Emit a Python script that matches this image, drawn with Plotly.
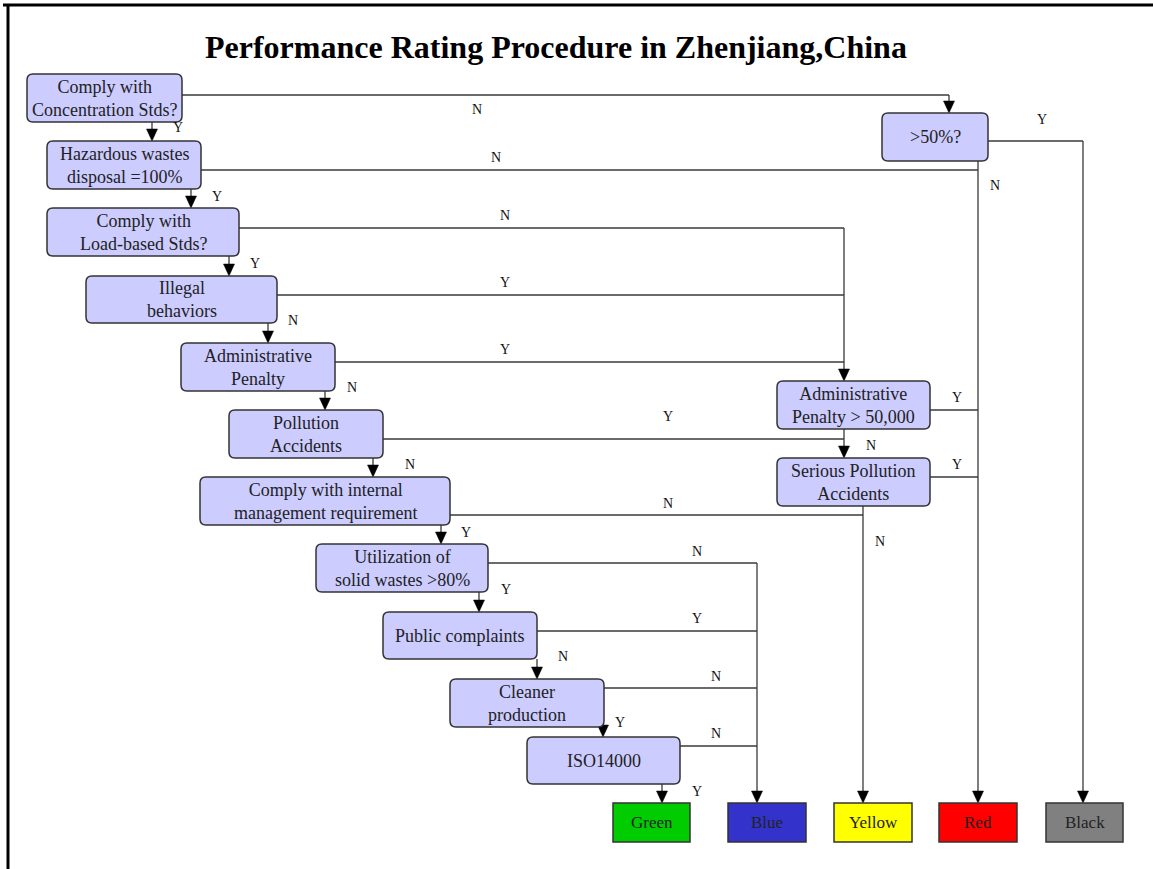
import plotly.graph_objects as go

# ---------------- content ----------------
TITLE = "Performance Rating Procedure in Zhenjiang,China"

STEP_LABELS = [
    "Comply with<br>Concentration Stds?",
    "Hazardous wastes<br>disposal =100%",
    "Comply with<br>Load-based Stds?",
    "Illegal<br>behaviors",
    "Administrative<br>Penalty",
    "Pollution<br>Accidents",
    "Comply with internal<br>management requirement",
    "Utilization of<br>solid wastes >80%",
    "Public complaints",
    "Cleaner<br>production",
    "ISO14000",
]
CHECK_LABELS = [">50%?", "Administrative<br>Penalty > 50,000", "Serious Pollution<br>Accidents"]
GRADES = ["Green", "Blue", "Yellow", "Red", "Black"]
# answers written next to the down arrows of the left chain (step i -> i+1)
DOWN_ANSWERS = ["Y", "Y", "Y", "N", "N", "N", "Y", "Y", "N", "Y", "Y"]
# answers written on the branches going right from each step
SIDE_ANSWERS = ["N", "N", "N", "Y", "Y", "Y", "N", "N", "Y", "N", "N"]
CHECK_ANSWERS = ["Y", "N", "Y", "N", "Y", "N"]  # >50% Y/N, Pen Y/N, Serious Y/N

# ---------------- layout geometry (pixels) ----------------
W, H = 1153, 869
STEP_BOX = [(27, 74, 182, 122), (47, 141, 201, 189), (47, 208, 239, 256), (86, 276, 277, 323),
            (181, 343, 335, 391), (229, 410, 383, 458), (200, 477, 450, 525), (316, 544, 488, 592),
            (383, 612, 537, 659), (450, 679, 604, 727), (527, 737, 680, 784)]
DOWN_X = [152, 191, 229, 268, 325, 373, 441, 479, 537, 603, 662]
SIDE_Y = [95, 170, 228, 295, 362, 439, 515, 563, 631, 688, 746]
CHECK_BOX = [(882, 113, 988, 161), (777, 381, 930, 429), (777, 458, 930, 506)]
GRADE_BOX = [(613, 803, 690, 842), (728, 803, 806, 842), (834, 803, 912, 842),
             (939, 803, 1017, 842), (1046, 803, 1123, 842)]
GRADE_COLORS = ["#00CC00", "#3333CC", "#FFFF00", "#FF0000", "#808080"]
BUS_X = {"r1": 949, "red": 978, "pen": 844, "yellow": 863, "blue": 757, "black": 1083}
SIDE_TARGET = ["r1", "red", "pen", "pen", "pen", "pen", "yellow", "blue", "blue", "blue", "blue"]
SIDE_LABEL_POS = [(477, 109), (496, 157), (505, 215), (505, 282), (505, 349), (668, 416),
                  (668, 503), (697, 551), (697, 618), (716, 676), (716, 733)]
DOWN_LABEL_POS = [(178, 127), (217, 196), (255, 263), (293, 320), (352, 387), (410, 464),
                  (466, 532), (506, 589), (563, 656), (620, 722), (697, 791)]
CHECK_LABEL_POS = [(1042, 119), (995, 185), (957, 397), (871, 445), (957, 464), (880, 541)]
CHECK_SIDE_Y = [141, 410, 477]

LINE = dict(color="#3a3a3a", width=1.3)
BORDER = "#333333"
FILL = "#CCCCFF"
FONT = "Liberation Serif"

shapes, annotations = [], []


def rrect(x0, y0, x1, y1, r=6):
    return (f"M{x0+r},{y0} L{x1-r},{y0} Q{x1},{y0} {x1},{y0+r} L{x1},{y1-r} "
            f"Q{x1},{y1} {x1-r},{y1} L{x0+r},{y1} Q{x0},{y1} {x0},{y1-r} "
            f"L{x0},{y0+r} Q{x0},{y0} {x0+r},{y0} Z")


def seg(x0, y0, x1, y1):
    shapes.append(dict(type="line", x0=x0, y0=y0, x1=x1, y1=y1, xref="x", yref="y",
                       line=LINE, layer="above"))


def arrow_down(x, y0, ytip, ah=12, aw=5.5):
    seg(x, y0, x, ytip - ah + 1)
    shapes.append(dict(type="path", xref="x", yref="y",
                       path=f"M{x-aw},{ytip-ah} L{x+aw},{ytip-ah} L{x},{ytip} Z",
                       fillcolor="#000000", line=dict(color="#000000", width=0.5), layer="above"))


def label(txt, x, y, size=14):
    annotations.append(dict(text=txt, x=x, y=y, xref="x", yref="y", showarrow=False,
                            font=dict(family=FONT, size=size, color="#111111"),
                            xanchor="center", yanchor="middle"))


def box(x0, y0, x1, y1, txt, fill=FILL, rounded=True, size=18):
    if rounded:
        shapes.append(dict(type="path", xref="x", yref="y", path=rrect(x0, y0, x1, y1),
                           fillcolor=fill, line=dict(color=BORDER, width=1.5), layer="above"))
    else:
        shapes.append(dict(type="rect", xref="x", yref="y", x0=x0, y0=y0, x1=x1, y1=y1,
                           fillcolor=fill, line=dict(color=BORDER, width=1.5), layer="above"))
    annotations.append(dict(text=txt, x=(x0 + x1) / 2, y=(y0 + y1) / 2, xref="x", yref="y",
                            showarrow=False, font=dict(family=FONT, size=size, color="#222222"),
                            xanchor="center", yanchor="middle"))


# ---- down arrows along the left chain (and to Green) ----
targets_top = [b[1] for b in STEP_BOX[1:]] + [GRADE_BOX[0][1]]
for i, x in enumerate(DOWN_X):
    arrow_down(x, STEP_BOX[i][3], targets_top[i])
    label(DOWN_ANSWERS[i], *DOWN_LABEL_POS[i])

# ---- side branches ----
for i, y in enumerate(SIDE_Y):
    bx = BUS_X[SIDE_TARGET[i]]
    seg(STEP_BOX[i][2], y, bx, y)
    label(SIDE_ANSWERS[i], *SIDE_LABEL_POS[i])

arrow_down(BUS_X["r1"], SIDE_Y[0], CHECK_BOX[0][1])
arrow_down(BUS_X["pen"], SIDE_Y[2], CHECK_BOX[1][1])
arrow_down(BUS_X["pen"], CHECK_BOX[1][3], CHECK_BOX[2][1])
arrow_down(BUS_X["yellow"], CHECK_BOX[2][3], GRADE_BOX[2][1])
arrow_down(BUS_X["blue"], SIDE_Y[7], GRADE_BOX[1][1])
arrow_down(BUS_X["red"], CHECK_BOX[0][3], GRADE_BOX[3][1])
seg(CHECK_BOX[0][2], CHECK_SIDE_Y[0], BUS_X["black"], CHECK_SIDE_Y[0])
arrow_down(BUS_X["black"], CHECK_SIDE_Y[0], GRADE_BOX[4][1])
for k in (1, 2):
    seg(CHECK_BOX[k][2], CHECK_SIDE_Y[k], BUS_X["red"], CHECK_SIDE_Y[k])
for t, pos in zip(CHECK_ANSWERS, CHECK_LABEL_POS):
    label(t, *pos)

# ---- boxes ----
for b, t in zip(STEP_BOX, STEP_LABELS):
    box(*b, t)
for b, t in zip(CHECK_BOX, CHECK_LABELS):
    box(*b, t)
for b, t, c in zip(GRADE_BOX, GRADES, GRADE_COLORS):
    box(*b, t, fill=c, rounded=False, size=17)

# ---- frame ----
shapes.append(dict(type="line", x0=3, y0=5, x1=W, y1=5, xref="x", yref="y",
                   line=dict(color="#000000", width=3), layer="above"))
shapes.append(dict(type="line", x0=8, y0=5, x1=8, y1=H, xref="x", yref="y",
                   line=dict(color="#000000", width=3), layer="above"))

# title
annotations.append(dict(text="<b>" + TITLE + "</b>", x=556, y=47, xref="x", yref="y",
                        showarrow=False, font=dict(family=FONT, size=32, color="#000000"),
                        xanchor="center", yanchor="middle"))

fig = go.Figure()
fig.update_layout(
    width=W, height=H, margin=dict(l=0, r=0, t=0, b=0),
    paper_bgcolor="white", plot_bgcolor="white",
    xaxis=dict(range=[0, W], visible=False, fixedrange=True),
    yaxis=dict(range=[H, 0], visible=False, fixedrange=True),
    shapes=shapes, annotations=annotations, showlegend=False,
)
fig.write_html("out.html", config={"displayModeBar": False},
               post_script="document.body.style.margin='0';document.body.style.overflow='hidden';")
